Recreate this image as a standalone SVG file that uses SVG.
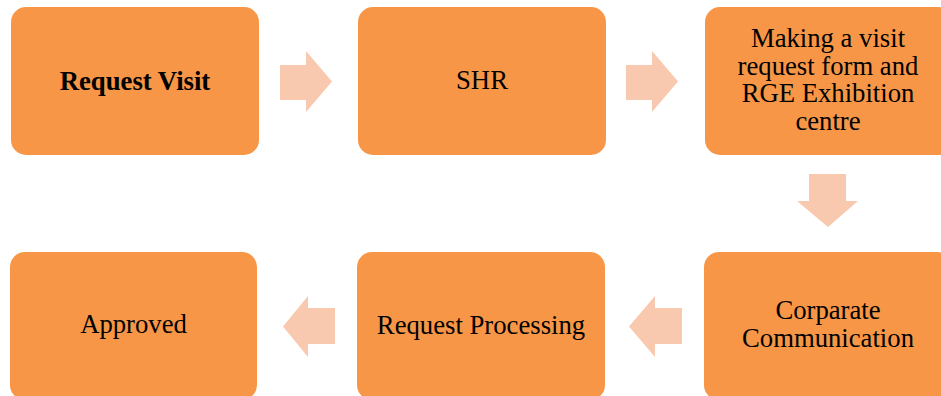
<svg xmlns="http://www.w3.org/2000/svg" width="941" height="396" viewBox="0 0 941 396">
<style>
.box{fill:#F79646;}
.arr{fill:#F9C9AF;}
text{font-family:"Liberation Serif","Times New Roman",Times,serif;font-size:26.7px;fill:#000;text-anchor:middle;}
.b{font-weight:bold;}
</style>
<rect width="941" height="396" fill="#FFFFFF"/>
<g id="connectors">
<polygon class="arr" points="280,65 306,65 306,51 332,81.5 306,112 306,100 280,100"/>
<polygon class="arr" points="626,65 652,65 652,51 678,81.5 652,112 652,100 626,100"/>
<polygon class="arr" points="809,174 846,174 846,201 858,201 828,227 797,201 809,201"/>
<polygon class="arr" points="682,308 655,308 655,296 629,326.5 655,357 655,344 682,344"/>
<polygon class="arr" points="335,308 308,308 308,296 283,326.5 308,357 308,344 335,344"/>
</g>
<g id="node-request-visit">
<rect class="box" x="11" y="7" width="248" height="148" rx="15"/>
<text class="b" x="135" y="90">Request Visit</text>
</g>
<g id="node-shr">
<rect class="box" x="358" y="7" width="248" height="148" rx="15"/>
<text x="482" y="89">SHR</text>
</g>
<g id="node-making">
<rect class="box" x="705" y="7" width="248" height="148" rx="15"/>
<text x="828" y="47">Making a visit</text>
<text x="828" y="75">request form and</text>
<text x="828" y="102">RGE Exhibition</text>
<text x="828" y="130">centre</text>
</g>
<g id="node-corparate">
<rect class="box" x="704" y="252" width="248" height="148" rx="15"/>
<text x="828" y="319">Corparate</text>
<text x="828" y="347">Communication</text>
</g>
<g id="node-request-processing">
<rect class="box" x="357" y="252" width="248" height="148" rx="15"/>
<text x="481" y="334">Request Processing</text>
</g>
<g id="node-approved">
<rect class="box" x="10" y="252" width="247" height="148" rx="15"/>
<text x="133.5" y="333">Approved</text>
</g>
</svg>
